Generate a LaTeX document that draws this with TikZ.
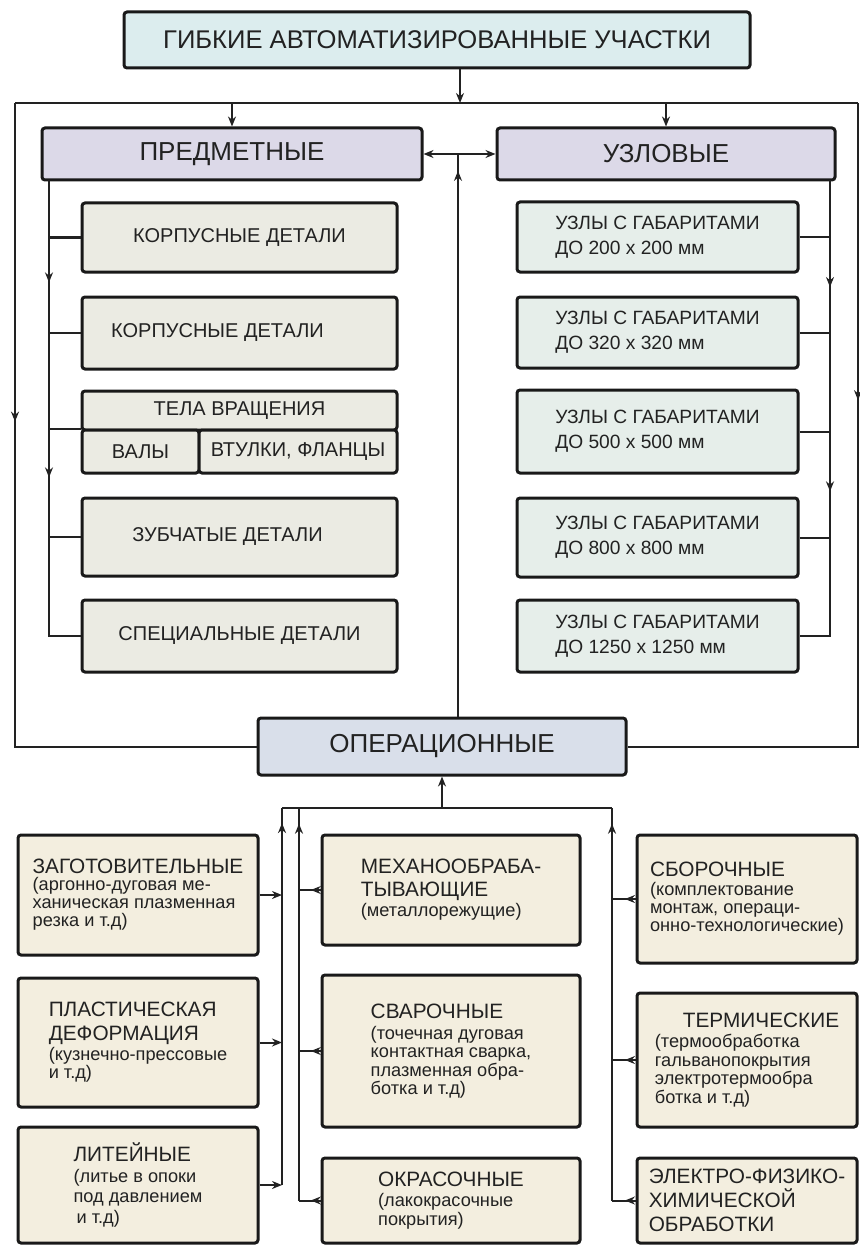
\documentclass[tikz,border=0pt]{standalone}
\usepackage{fontspec}
\setmainfont{Liberation Sans}
\usepackage{tikz}
\usetikzlibrary{
  positioning,
  arrows.meta,
  decorations.markings
}
\definecolor{titlecyan}{RGB}{220,237,238}
\definecolor{lilac}{RGB}{220,217,232}
\definecolor{stone}{RGB}{235,235,227}
\definecolor{mint}{RGB}{230,238,234}
\definecolor{steel}{RGB}{217,223,234}
\definecolor{cream}{RGB}{243,238,223}
\definecolor{ink}{RGB}{34,34,34}
\newcommand\titletxt{\fontsize{12.8}{15}\selectfont}
\newcommand\captxt{\fontsize{13}{15}\selectfont}
\newcommand\itemtxt{\fontsize{10}{12.5}\selectfont}
\newcommand\sizetxt{\fontsize{9.6}{12.5}\selectfont}
\newcommand\optxt{\fontsize{10.4}{12}\selectfont}
\newcommand\subtxt{\fontsize{9.1}{9.2}\selectfont}
\tikzset{
  wire/.style={line width=1pt, draw=ink},
  tip/.style={-{Stealth[length=5pt,width=4pt]}},
  midtip/.style={
    postaction={decorate},
    decoration={markings,
      mark=at position #1 with {\arrow{Stealth[length=5pt,width=4pt]}}}
  },
  midtips/.style 2 args={
    postaction={decorate},
    decoration={markings,
      mark=at position #1 with {\arrow{Stealth[length=5pt,width=4pt]}},
      mark=at position #2 with {\arrow{Stealth[length=5pt,width=4pt]}}}
  }
}

\begin{document}
\begin{tikzpicture}[
  x=0.5pt, y=-0.5pt,
  box/.style={
    draw=black!90,
    line width=1.5pt,
    rounded corners=1.5pt,
    inner sep=0pt,
    text=ink,
    align=center
  },
  headbox/.style={box, font=\captxt},
  itembox/.style={box, fill=stone, minimum width=157.5pt, font=\itemtxt},
  sizebox/.style={box, fill=mint, minimum width=140.5pt, font=\sizetxt, align=left},
  opbox/.style={box, fill=cream, font=\subtxt, align=left}
]
\useasboundingbox (0,0) rectangle (860,1246);

  \node[headbox, fill=titlecyan, font=\titletxt, minimum width=313pt, minimum height=28pt]
    (title) at (437,40) {ГИБКИЕ АВТОМАТИЗИРОВАННЫЕ УЧАСТКИ};

  \node[headbox, fill=lilac, minimum width=190pt, minimum height=26pt]
    (pred) at (232,154) {ПРЕДМЕТНЫЕ};
  \node[headbox, fill=lilac, minimum width=169pt, minimum height=26pt]
    (uzl) at (666,154) {УЗЛОВЫЕ};

  \node[itembox, minimum height=34.5pt] (korp1) at (239.5,237.5) {КОРПУСНЫЕ ДЕТАЛИ};
  \node[itembox, minimum height=36pt] (korp2) at (239.5,333) {КОРПУСНЫЕ ДЕТАЛИ\hspace*{22pt}};
  \node[itembox, minimum height=19.5pt] (tela) at (239.5,410.5) {ТЕЛА ВРАЩЕНИЯ};
  \node[itembox, minimum width=58.5pt, minimum height=21.5pt] (vala) at (140.5,451.5) {ВАЛЫ};
  \node[itembox, minimum width=99pt, minimum height=21.5pt] (vtul) at (298,451.5) {ВТУЛКИ, ФЛАНЦЫ};
  \node[itembox, minimum height=39pt] (zub) at (239.5,537) {ЗУБЧАТЫЕ ДЕТАЛИ\hspace*{12pt}};
  \node[itembox, minimum height=36pt] (spec) at (239.5,636) {СПЕЦИАЛЬНЫЕ ДЕТАЛИ};

  \node[sizebox, minimum height=35pt] (u1) at (657.5,237) {УЗЛЫ С ГАБАРИТАМИ\\ДО 200 x 200 мм};
  \node[sizebox, minimum height=35.5pt] (u2) at (657.5,332.5) {УЗЛЫ С ГАБАРИТАМИ\\ДО 320 x 320 мм};
  \node[sizebox, minimum height=41.5pt] (u3) at (657.5,431.5) {УЗЛЫ С ГАБАРИТАМИ\\ДО 500 x 500 мм};
  \node[sizebox, minimum height=39.5pt] (u4) at (657.5,537.5) {УЗЛЫ С ГАБАРИТАМИ\\ДО 800 x 800 мм};
  \node[sizebox, minimum height=36pt] (u5) at (657.5,636) {УЗЛЫ С ГАБАРИТАМИ\\ДО 1250 x 1250 мм};

  \node[headbox, fill=steel, minimum width=184pt, minimum height=28.5pt]
    (oper) at (442,746.5) {ОПЕРАЦИОННЫЕ};

  \node[opbox, minimum width=120pt, minimum height=60pt] (zag) at (138,895)
  {{\optxt ЗАГОТОВИТЕЛЬНЫЕ}\\[-1pt](аргонно-дуговая ме-\\ханическая плазменная\\резка и т.д)};
  \node[opbox, minimum width=120pt, minimum height=64.5pt] (plast) at (138,1042.5)
  {{\optxt ПЛАСТИЧЕСКАЯ}\\[2.5pt]{\optxt ДЕФОРМАЦИЯ}\\[1pt](кузнечно-прессовые\\и т.д)};
  \node[opbox, minimum width=120pt, minimum height=58pt] (lit) at (138,1185)
  {{\optxt ЛИТЕЙНЫЕ}\\[1pt](литье в опоки\\[1pt]под давлением\\[1pt]\hspace*{1.5pt}и т.д)};

  \node[opbox, minimum width=129pt, minimum height=55pt] (mech) at (451,890)
  {{\optxt МЕХАНООБРАБА-}\\[2pt]{\optxt ТЫВАЮЩИЕ}\\[1pt](металлорежущие)};
  \node[opbox, minimum width=129pt, minimum height=76pt] (svar) at (451,1051)
  {{\optxt СВАРОЧНЫЕ}\\[1.5pt](точечная дуговая\\контактная сварка,\\плазменная обра-\\ботка и т.д)};
  \node[opbox, minimum width=129pt, minimum height=42.5pt] (okr) at (451,1200.5)
  {{\optxt ОКРАСОЧНЫЕ}\\[1pt](лакокрасочные\\покрытия)};

  \node[opbox, minimum width=110pt, minimum height=64pt] (sbor) at (747,899)
  {{\optxt СБОРОЧНЫЕ}\\[0pt](комплектование\\монтаж, операци-\\онно-технологические)};
  \node[opbox, minimum width=110pt, minimum height=67pt] (term) at (747,1060)
  {\hspace*{14pt}{\optxt ТЕРМИЧЕСКИЕ}\\[1pt](термообработка\\гальванопокрытия\\электротермообра\\ботка и т.д)};
  \node[opbox, font=\optxt, minimum width=110pt, minimum height=42.5pt] (elec) at (747,1200.5)
  {ЭЛЕКТРО-ФИЗИКО-\\ХИМИЧЕСКОЙ\\ОБРАБОТКИ};

  \coordinate (tl) at (15,103);
  \coordinate (tr) at (858,103);
  \coordinate (tj) at (460,103);
  \coordinate (jc) at (458,154);
  \coordinate (lbx) at (49,180);
  \coordinate (rbx) at (830,180);
  \coordinate (hb) at (452,808);
  \coordinate (b1) at (282,808);
  \coordinate (b2) at (299,808);
  \coordinate (b3) at (612,808);

  \draw[wire] (tl) -- (tr);
  \draw[wire,tip] (title.south -| tj) -- (tj);
  \draw[wire,tip] (pred.north |- tl) -- (pred.north);
  \draw[wire,tip] (uzl.north |- tl) -- (uzl.north);
  \draw[wire,midtip=0.36] (tl) |- (oper.west);
  \draw[wire,midtip=0.34] (tr) |- (oper.east);

  \draw[wire,midtip=0.97] (oper.north -| jc) -- (jc);
  \draw[wire,tip] (jc) -- (pred.east);
  \draw[wire,tip] (jc) -- (uzl.west);

  \draw[wire,midtips={0.21}{0.61}] (lbx) |- (spec.west);
  \foreach \n in {korp1,korp2,zub}
    \draw[wire] (\n.west -| lbx) -- (\n.west);
  \draw[wire] (vala.north west -| lbx) -- (vala.north west);

  \draw[wire,midtips={0.22}{0.64}] (rbx) |- (u5.east);
  \foreach \n in {u1,u2,u3,u4}
    \draw[wire] (\n.east) -- (\n.east -| rbx);

  \draw[wire] (b1) -- (b3);
  \draw[wire,tip] (oper.south |- hb) -- (oper.south);
  \draw[wire,midtip=0.96] (lit.east -| b1) -- (b1);
  \draw[wire,midtip=0.96] (okr.west -| b2) -- (b2);
  \draw[wire,midtip=0.96] (elec.west -| b3) -- (b3);
  \foreach \n in {zag,plast,lit}
    \draw[wire,tip] (\n.east) -- (\n.east -| b1);
  \foreach \n in {mech,svar,okr}
    \draw[wire,midtip=0.45] (\n.west) -- (\n.west -| b2);
  \foreach \n in {sbor,term,elec}
    \draw[wire,midtip=0.45] (\n.west) -- (\n.west -| b3);

\end{tikzpicture}
\end{document}
